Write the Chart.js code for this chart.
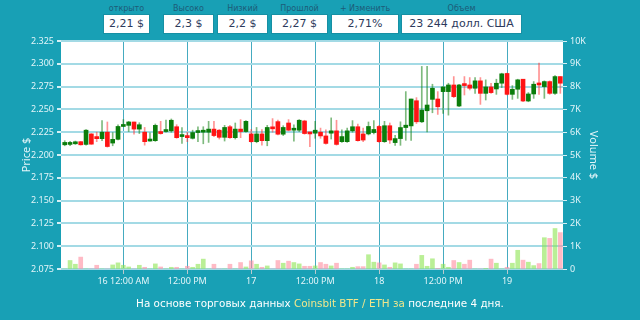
<!DOCTYPE html>
<html>
<head>
<meta charset="utf-8">
<script src="https://cdn.jsdelivr.net/npm/chart.js@4.4.1/dist/chart.umd.min.js"></script>
<style>
    html, body { margin: 0; padding: 0; }
    body { width: 640px; height: 320px; background: #18a0b5; position: relative; overflow: hidden; font-family: "DejaVu Sans", sans-serif; }
    #priceChart { position: absolute; left: 0; top: 0; }
    .hdr-label { position: absolute; top: 4px; font-size: 8px; color: #1d5c78; text-align: center; white-space: nowrap; }
    .hdr-box { position: absolute; top: 14px; height: 20px; background: #fff; border: 1px solid #1690a4; box-sizing: border-box; font-size: 11px; color: #2c3a5c; text-align: center; line-height: 18px; white-space: nowrap; }
    .footer { position: absolute; left: 0; top: 297px; width: 640px; text-align: center; font-size: 10.4px; color: #fff; white-space: nowrap; }
    .footer .src { color: #f0e68c; }
</style>
</head>
<body>
<div id="header"></div>
<canvas id="priceChart" width="640" height="320"></canvas>
<div class="footer">На основе торговых данных <span class="src">Coinsbit BTF / ETH за</span> последние 4 дня.</div>
<script>
// шапка со сводкой
const headerLabels = ['открыто', 'Высоко', 'Низкий', 'Прошлой', '+ Изменить', 'Объем'];
const headerValues = ['2,21 $', '2,3 $', '2,2 $', '2,27 $', '2,71%', '23 244 долл. США'];

// часы относительно 16-го 00:00
const hours = [
    -11, -10, -9, -8, -7, -6, -5, -4, -3, -2,
    -1, 0, 1, 2, 3, 4, 5, 6, 7, 8,
    9, 10, 11, 12, 13, 14, 15, 16, 17, 18,
    19, 20, 21, 22, 23, 24, 25, 26, 27, 28,
    29, 30, 31, 32, 33, 34, 35, 36, 37, 38,
    39, 40, 41, 42, 43, 44, 45, 46, 47, 48,
    49, 50, 51, 52, 53, 54, 55, 56, 57, 58,
    59, 60, 61, 62, 63, 64, 65, 66, 67, 68,
    69, 70, 71, 72, 73, 74, 75, 76, 77, 78,
    79, 80, 81, 82
];

const opens = [
    2.2112, 2.2116, 2.2123, 2.2146, 2.2116, 2.2231, 2.2202, 2.2179, 2.2250, 2.2131,
    2.2172, 2.2313, 2.2325, 2.2362, 2.2284, 2.2250, 2.2153, 2.2157, 2.2257, 2.2257,
    2.2265, 2.2310, 2.2202, 2.2213, 2.2183, 2.2246, 2.2250, 2.2250, 2.2284, 2.2272,
    2.2194, 2.2310, 2.2190, 2.2284, 2.2257, 2.2231, 2.2146, 2.2231, 2.2157, 2.2302,
    2.2366, 2.2228, 2.2351, 2.2272, 2.2272, 2.2373, 2.2246, 2.2239, 2.2250, 2.2209,
    2.2239, 2.2265, 2.2146, 2.2146, 2.2265, 2.2310, 2.2231, 2.2231, 2.2246, 2.2313,
    2.2146, 2.2321, 2.2136, 2.2180, 2.2301, 2.2319, 2.2595, 2.2364, 2.2485, 2.2610,
    2.2614, 2.2695, 2.2695, 2.2768, 2.2537, 2.2768, 2.2768, 2.2732, 2.2813, 2.2676,
    2.2746, 2.2724, 2.2787, 2.2894, 2.2665, 2.2721, 2.2831, 2.2592, 2.2669, 2.2776,
    2.2750, 2.2805, 2.2676, 2.2860
];
const highs = [
    2.2157, 2.2149, 2.2153, 2.2149, 2.2280, 2.2235, 2.2250, 2.2377, 2.2362, 2.2246,
    2.2332, 2.2388, 2.2369, 2.2362, 2.2354, 2.2302, 2.2243, 2.2340, 2.2369, 2.2384,
    2.2395, 2.2332, 2.2302, 2.2250, 2.2272, 2.2310, 2.2310, 2.2369, 2.2369, 2.2280,
    2.2325, 2.2325, 2.2351, 2.2388, 2.2377, 2.2280, 2.2302, 2.2280, 2.2325, 2.2399,
    2.2384, 2.2321, 2.2388, 2.2332, 2.2388, 2.2381, 2.2246, 2.2369, 2.2295, 2.2276,
    2.2407, 2.2381, 2.2276, 2.2295, 2.2377, 2.2340, 2.2295, 2.2362, 2.2377, 2.2325,
    2.2369, 2.2351, 2.2217, 2.2364, 2.2695, 2.2614, 2.2629, 2.2971, 2.2971, 2.2776,
    2.2695, 2.2750, 2.2787, 2.2860, 2.2776, 2.2860, 2.2849, 2.2849, 2.2849, 2.2824,
    2.2787, 2.2831, 2.2897, 2.2897, 2.2761, 2.2831, 2.2831, 2.2684, 2.2805, 2.3008,
    2.2813, 2.2813, 2.2871, 2.2860
];
const lows = [
    2.2101, 2.2101, 2.2116, 2.2108, 2.2108, 2.2116, 2.2146, 2.2157, 2.2086, 2.2101,
    2.2164, 2.2310, 2.2257, 2.2228, 2.2235, 2.2108, 2.2153, 2.2149, 2.2228, 2.2250,
    2.2250, 2.2183, 2.2127, 2.2146, 2.2175, 2.2146, 2.2123, 2.2138, 2.2202, 2.2175,
    2.2153, 2.2183, 2.2175, 2.2190, 2.2250, 2.2138, 2.2134, 2.2108, 2.2101, 2.2250,
    2.2220, 2.2213, 2.2265, 2.2153, 2.2257, 2.2228, 2.2090, 2.2183, 2.2183, 2.2119,
    2.2175, 2.2108, 2.2138, 2.2138, 2.2250, 2.2153, 2.2146, 2.2220, 2.2231, 2.2138,
    2.2138, 2.2127, 2.2106, 2.2106, 2.2161, 2.2161, 2.2345, 2.2356, 2.2253, 2.2463,
    2.2445, 2.2456, 2.2437, 2.2629, 2.2529, 2.2658, 2.2713, 2.2676, 2.2555, 2.2603,
    2.2676, 2.2665, 2.2739, 2.2658, 2.2610, 2.2621, 2.2584, 2.2584, 2.2621, 2.2665,
    2.2621, 2.2665, 2.2665, 2.2676
];
const closes = [
    2.2138, 2.2127, 2.2138, 2.2112, 2.2272, 2.2119, 2.2179, 2.2250, 2.2093, 2.2172,
    2.2313, 2.2332, 2.2362, 2.2284, 2.2332, 2.2146, 2.2160, 2.2325, 2.2235, 2.2272,
    2.2381, 2.2190, 2.2213, 2.2190, 2.2246, 2.2254, 2.2257, 2.2284, 2.2213, 2.2194,
    2.2302, 2.2190, 2.2284, 2.2257, 2.2369, 2.2146, 2.2231, 2.2157, 2.2302, 2.2287,
    2.2228, 2.2302, 2.2272, 2.2280, 2.2381, 2.2235, 2.2231, 2.2272, 2.2209, 2.2127,
    2.2265, 2.2116, 2.2202, 2.2265, 2.2310, 2.2157, 2.2164, 2.2313, 2.2280, 2.2146,
    2.2321, 2.2164, 2.2180, 2.2301, 2.2327, 2.2614, 2.2364, 2.2492, 2.2548, 2.2732,
    2.2529, 2.2746, 2.2768, 2.2640, 2.2768, 2.2761, 2.2732, 2.2813, 2.2676, 2.2746,
    2.2684, 2.2787, 2.2890, 2.2665, 2.2721, 2.2824, 2.2592, 2.2669, 2.2776, 2.2768,
    2.2805, 2.2676, 2.2860, 2.2787
];
const volumes = [
    0, 373, 209, 522, 0, 0, 164, 0, 0, 179,
    269, 164, 90, 0, 164, 75, 0, 224, 90, 0,
    75, 75, 0, 119, 75, 209, 433, 0, 209, 0,
    0, 209, 0, 284, 90, 358, 209, 75, 134, 0,
    373, 254, 343, 284, 224, 119, 119, 134, 284, 209,
    134, 254, 0, 0, 75, 104, 104, 627, 299, 269,
    179, 75, 269, 224, 0, 0, 209, 597, 119, 448,
    15, 209, 75, 373, 284, 209, 388, 0, 0, 15,
    433, 254, 0, 75, 254, 821, 388, 299, 149, 239,
    1373, 1343, 1776, 1597
];

// подписи оси времени
const xTickValues = [0, 12, 24, 36, 48, 60, 72];
const xTickLabels = ['16 12:00 AM', '12:00 PM', '17', '12:00 PM', '18', '12:00 PM', '19'];

// позиции ячеек шапки
const headerBoxes = [[103, 47], [163, 51], [217, 51], [271, 57], [331, 68], [401, 121]];

const header = document.getElementById('header');
header.innerHTML = headerLabels.map((lbl, i) => {
    const [x, w] = headerBoxes[i];
    return `<div class="hdr-label" style="left:${x}px;width:${w}px">${lbl}</div>
            <div class="hdr-box" style="left:${x}px;width:${w}px">${headerValues[i]}</div>`;
}).join('');

const up = closes.map((c, i) => c >= opens[i]);
const axisText = '#e3f5f9';

// белый фон области графика
const plotBg = {
    id: 'plotBg',
    beforeDraw(chart) {
        const { ctx, chartArea: a } = chart;
        ctx.save();
        ctx.fillStyle = '#ffffff';
        ctx.fillRect(a.left, a.top, a.right - a.left, a.bottom - a.top);
        ctx.restore();
    }
};

const ctx = document.getElementById('priceChart').getContext('2d');
new Chart(ctx, {
    type: 'bar',
    plugins: [plotBg],
    data: {
        datasets: [
            {
                label: 'body',
                data: hours.map((h, i) => ({ x: h, y: [opens[i], closes[i]] })),
                backgroundColor: up.map(u => u ? '#0b7d0b' : '#ff1414'),
                barThickness: 4,
                minBarLength: 2,
                grouped: false,
                yAxisID: 'y',
                order: 1
            },
            {
                label: 'wick',
                data: hours.map((h, i) => ({ x: h, y: [lows[i], highs[i]] })),
                backgroundColor: up.map(u => u ? 'rgba(20,130,20,0.55)' : 'rgba(255,40,40,0.5)'),
                barThickness: 1,
                grouped: false,
                yAxisID: 'y',
                order: 2
            },
            {
                label: 'volume',
                data: hours.map((h, i) => ({ x: h, y: volumes[i] })),
                backgroundColor: up.map(u => u ? 'rgba(140,228,80,0.6)' : 'rgba(255,140,158,0.6)'),
                barThickness: 4,
                grouped: false,
                yAxisID: 'y1',
                order: 3
            }
        ]
    },
    options: {
        responsive: false,
        animation: false,
        layout: { padding: { top: 41, left: 0, right: 0, bottom: 0 } },
        plugins: { legend: { display: false }, tooltip: { enabled: false } },
        scales: {
            x: {
                type: 'linear',
                min: -11.7,
                max: 82.5,
                offset: false,
                afterBuildTicks: s => { s.ticks = xTickValues.map(v => ({ value: v })); },
                afterFit: s => { s.height = 51; },
                ticks: {
                    autoSkip: false,
                    maxRotation: 0,
                    padding: 2,
                    color: axisText,
                    font: { family: 'Noto Sans', size: 9 },
                    callback: (v, i) => xTickLabels[i]
                },
                grid: { offset: false, color: '#45abc0', lineWidth: 1, tickColor: '#b9c9cd', tickLength: 5 },
                border: { display: false }
            },
            y: {
                position: 'left',
                min: 2.075,
                max: 2.325,
                afterFit: s => { s.width = 61; },
                ticks: {
                    stepSize: 0.025,
                    padding: 3,
                    color: axisText,
                    font: { family: 'Noto Sans', size: 9 },
                    callback: v => v.toFixed(3)
                },
                title: {
                    display: true,
                    text: 'Price $',
                    color: axisText,
                    font: { family: 'Noto Sans', size: 11 },
                    padding: { top: 20 }
                },
                grid: { color: '#a3dae5', lineWidth: 2, tickColor: '#d6eff4', tickLength: 4 },
                border: { display: false }
            },
            y1: {
                position: 'right',
                min: 0,
                max: 10000,
                afterFit: s => { s.width = 77; },
                ticks: {
                    stepSize: 1000,
                    padding: 3,
                    color: axisText,
                    font: { family: 'Noto Sans', size: 9 },
                    callback: v => v === 0 ? '0' : (v / 1000) + 'K'
                },
                title: {
                    display: true,
                    text: 'Volume $',
                    color: axisText,
                    font: { family: 'Noto Sans', size: 11 },
                    padding: { top: 40 }
                },
                grid: { drawOnChartArea: false, tickColor: '#d6eff4', tickLength: 4 },
                border: { display: false }
            }
        }
    }
});
</script>
</body>
</html>
